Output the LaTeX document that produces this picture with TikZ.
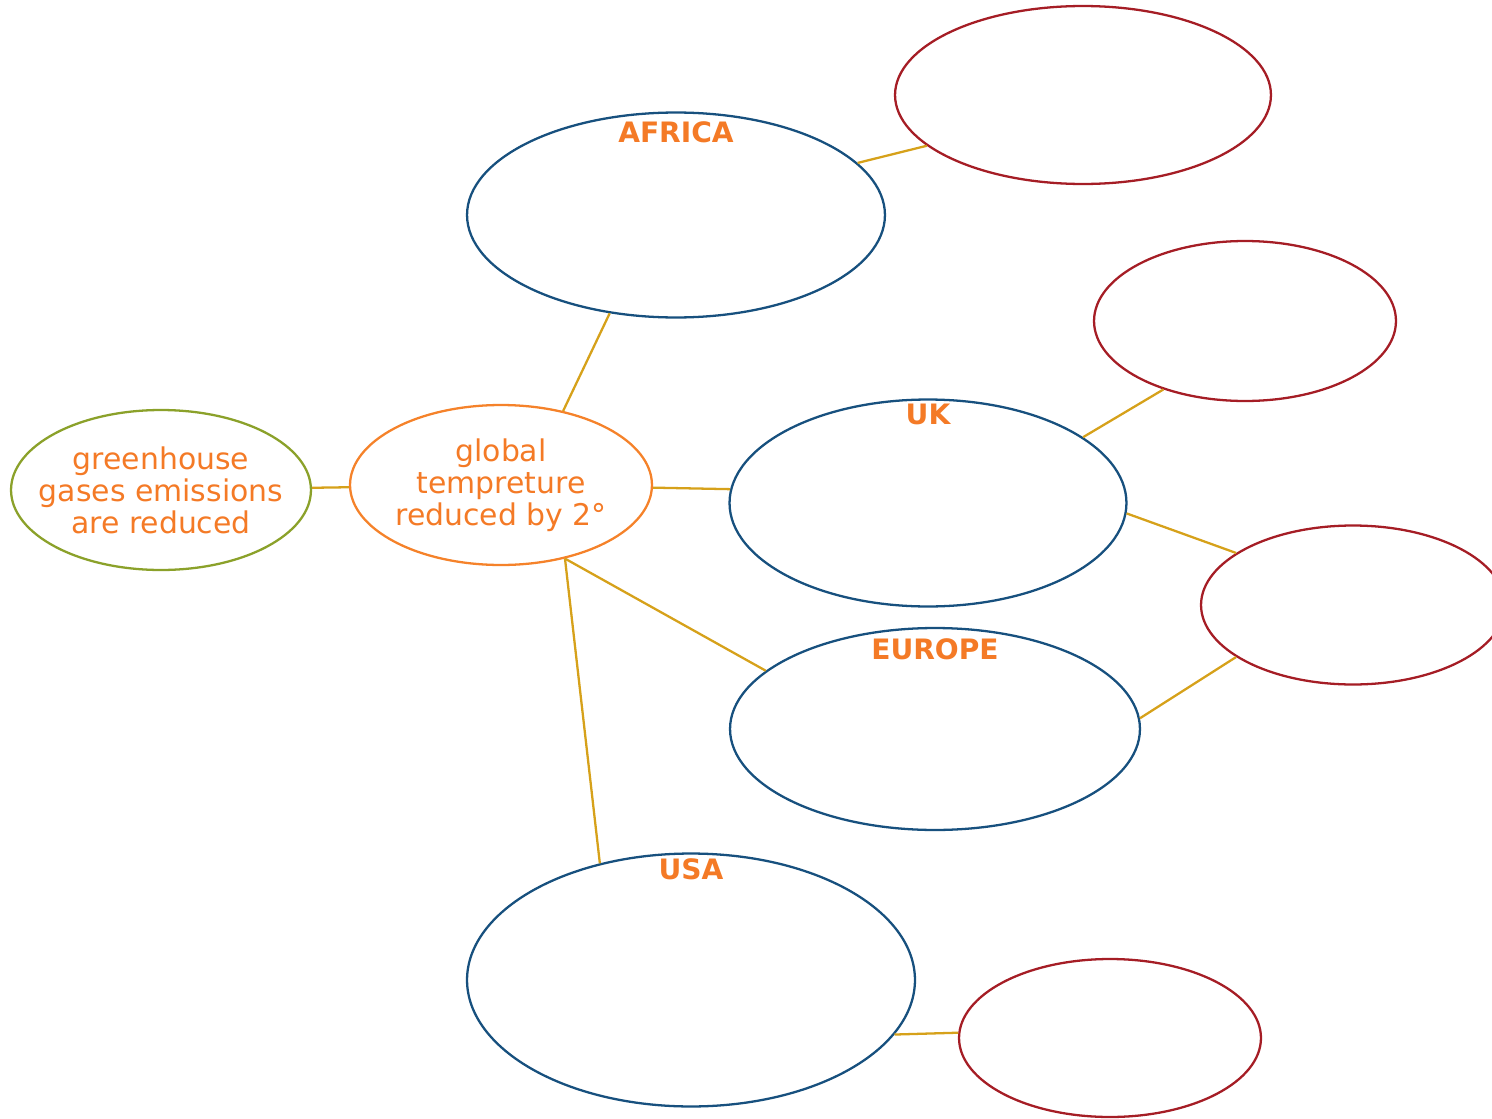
\documentclass[tikz,border=0pt]{standalone}
\usepackage{fontspec}
\setmainfont{DejaVu Sans}
\usetikzlibrary{shapes.geometric}
\definecolor{txtorange}{HTML}{F47A26}
\definecolor{causegreen}{HTML}{8BA12A}
\definecolor{goalorange}{HTML}{F5822A}
\definecolor{regionblue}{HTML}{17507E}
\definecolor{planred}{HTML}{A51D25}
\definecolor{linkgold}{HTML}{D6A11A}
\begin{document}
\begin{tikzpicture}[x=0.02cm, y=-0.02cm, bubble/.style={ellipse, draw, line width=1.3pt, inner sep=0pt, align=center, text=txtorange, font=\fontsize{17}{18.2}\selectfont}, cause/.style={bubble, draw=causegreen, inner xsep=-0.4cm}, goal/.style={bubble, draw=goalorange, inner xsep=-0.3cm}, region/.style={bubble, draw=regionblue}, plan/.style={bubble, draw=planred}, regionlabel/.style={anchor=north, inner sep=0pt, text=txtorange, font=\bfseries\fontsize{16}{16}\selectfont}, link/.style={draw=linkgold, line width=1.3pt}]
        \useasboundingbox (0,0) rectangle (1492,1119);
        \node(green)[cause, minimum width=6cm, minimum height=3.2cm] at (161,490){greenhouse\\gases emissions\\are reduced};
        \node(global)[goal, minimum width=6.04cm, minimum height=3.2cm] at (501,485){global\\tempreture\\reduced by 2°};
        \node(africa)[region, minimum width=8.36cm, minimum height=4.1cm, label={[regionlabel, label distance=-0.2cm]north:AFRICA}] at (676,215){};
        \node(uk)[region, minimum width=7.94cm, minimum height=4.14cm, label={[regionlabel, label distance=-0.1cm]north:UK}] at (928,503){};
        \node(europe)[region, minimum width=8.2cm, minimum height=4.04cm, label={[regionlabel, label distance=-0.22cm]north:EUROPE}] at (935,729){};
        \node(usa)[region, minimum width=8.96cm, minimum height=5.06cm, label={[regionlabel, label distance=-0.12cm]north:USA}] at (691,980){};
        \node(africaplan)[plan, minimum width=7.52cm, minimum height=3.56cm] at (1083,95){};
        \node(ukplan)[plan, minimum width=6.04cm, minimum height=3.2cm] at (1245,321){};
        \node(jointplan)[plan, minimum width=6.08cm, minimum height=3.18cm] at (1353,605){};
        \node(usaplan)[plan, minimum width=6.04cm, minimum height=3.16cm] at (1110,1038){};

        \draw[link] (green) -- (global);
        \draw[link] (global.50) -- (africa.236);
        \draw[link] (global.-1) -- (uk.176);
        \draw[link] (global.311) -- (europe.161);
        \draw[link] (global.311) -- (usa.128);
        \draw[link] (africa.16) -- (africaplan.198);
        \draw[link] (uk.23) -- (ukplan.220);
        \draw[link] (uk.-3) -- (jointplan.156);
        \draw[link] (europe.3) -- (jointplan.204);
        \draw[link] (usa.-15) -- (usaplan.178);
    \end{tikzpicture}
\end{document}
